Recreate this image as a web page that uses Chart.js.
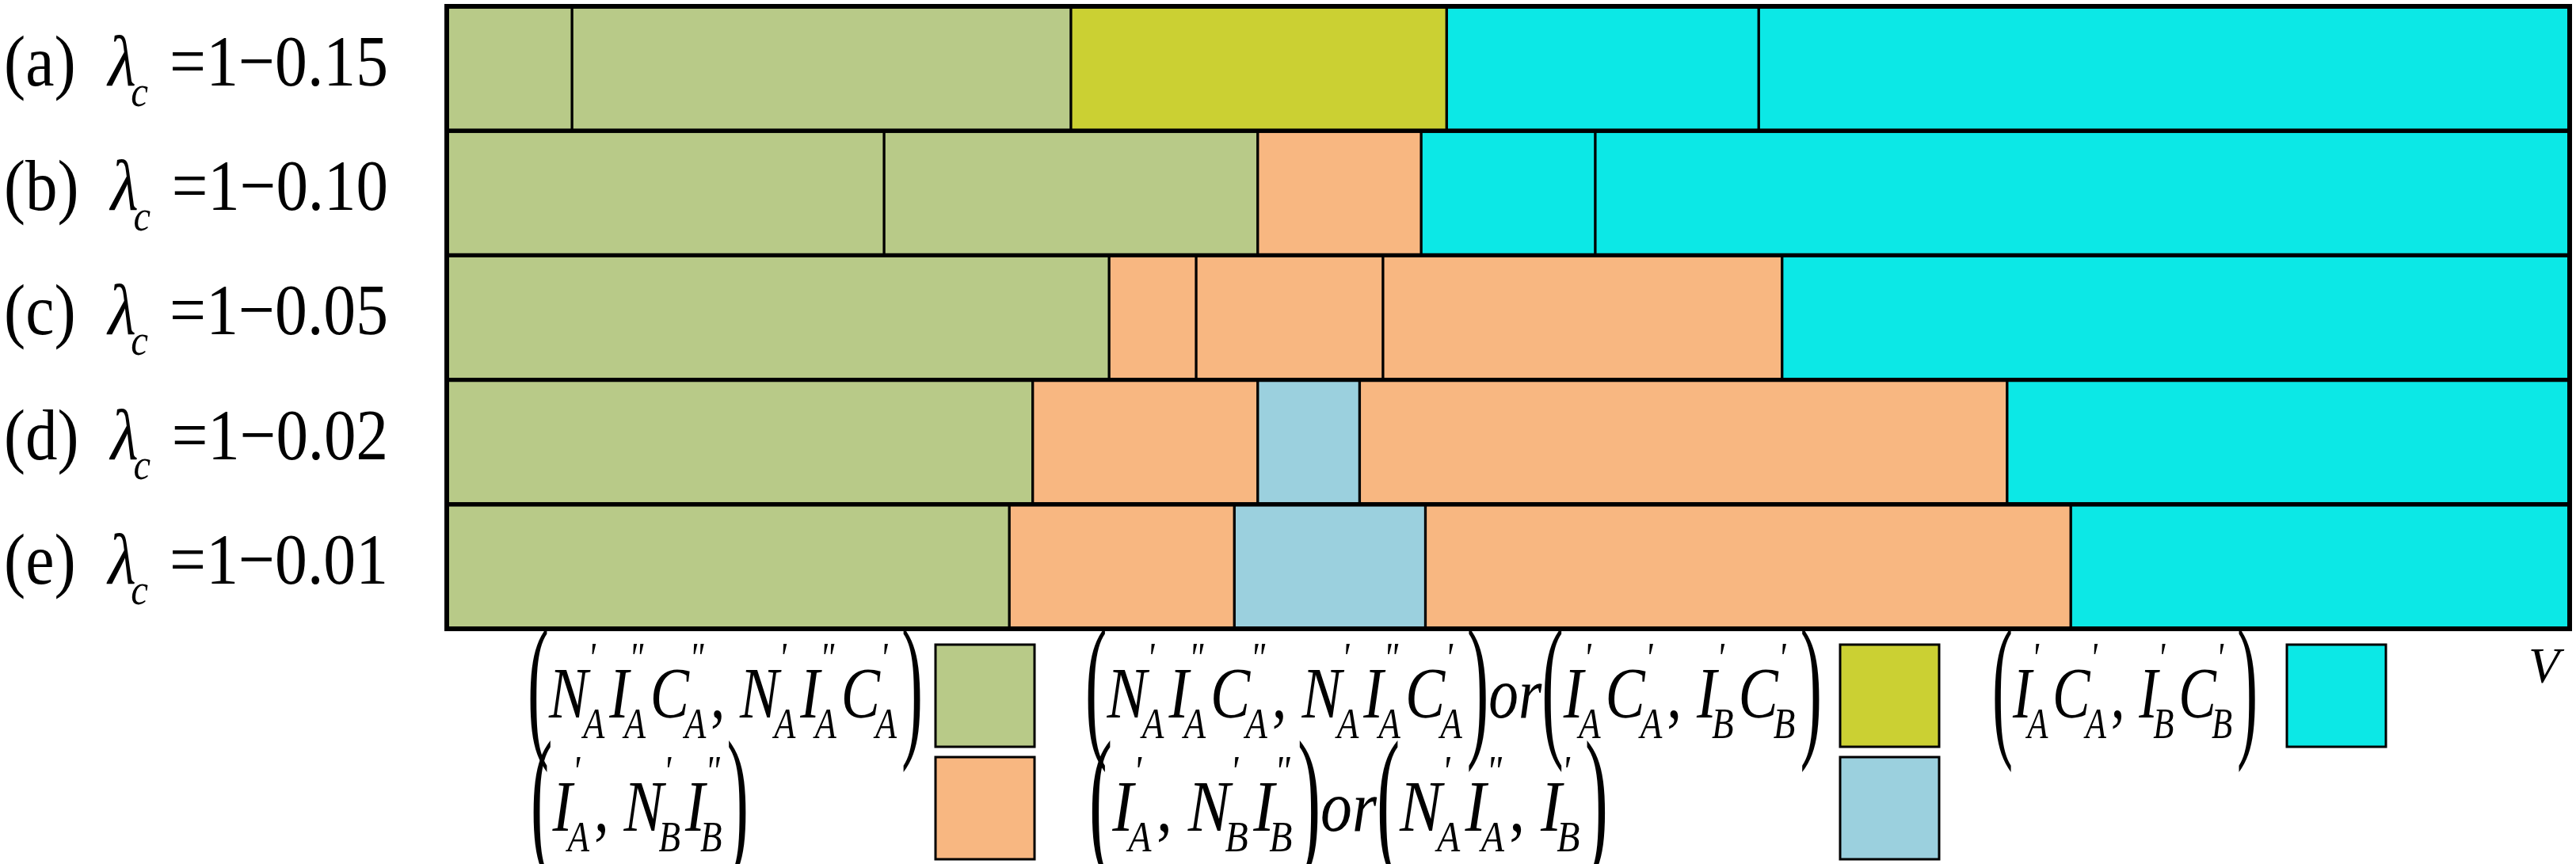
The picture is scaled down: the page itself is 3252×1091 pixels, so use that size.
<!DOCTYPE html>
<html lang="en">
<head>
<meta charset="UTF-8">
<title>Regime diagram</title>
<style>
  body { margin: 0; background: #fff; }
  canvas { display: block; }
</style>
</head>
<body>
<canvas id="chart" width="3252" height="1091"></canvas>
<script src="https://cdn.jsdelivr.net/npm/chart.js"></script>
<script>
// rows from top to bottom
const rowTags = ['(a)', '(b)', '(c)', '(d)', '(e)'];
const rowValues = ['1\u22120.15', '1\u22120.10', '1\u22120.05', '1\u22120.02', '1\u22120.01'];

// segment widths along V (total 100 per row), segment i of each row
const seg1 = [5.9, 20.6, 31.2, 27.6, 26.5];
const seg2 = [23.5, 17.6, 4.1, 10.6, 10.6];
const seg3 = [17.7, 7.7, 8.8, 4.8, 9.0];
const seg4 = [14.7, 8.2, 18.8, 30.5, 30.4];
const seg5 = [38.2, 45.9, 37.1, 26.5, 23.5];

// which state each segment belongs to
const rowStates = [
    ['G', 'G', 'Y', 'C', 'C'],
    ['G', 'G', 'O', 'C', 'C'],
    ['G', 'O', 'O', 'O', 'C'],
    ['G', 'O', 'L', 'O', 'C'],
    ['G', 'O', 'L', 'O', 'C']
];

const stateColors = { G: '#b8ca88', Y: '#cbd033', C: '#0ce8e6', O: '#f8b781', L: '#9bd0de' };

const segments = [seg1, seg2, seg3, seg4, seg5];
const datasets = segments.map((seg, i) => ({
    data: seg,
    backgroundColor: rowStates.map(r => stateColors[r[i]]),
    borderColor: '#000',
    borderWidth: { left: 2, right: 2, top: 3, bottom: 3 },
    borderSkipped: false,
    barPercentage: 1,
    categoryPercentage: 1
}));

const SERIF = '"Liberation Serif", "DejaVu Serif", serif';

// tokens: {p:'('} paren, {s:'text', i:italic}, {s:'N', i:1, sup:"'", sub:'A'}
function tokWidth(ctx, t, size) {
    if (t.p) { ctx.font = `${size * 1.1}px ${SERIF}`; return ctx.measureText(t.p).width; }
    ctx.font = `${t.i ? 'italic ' : ''}${size}px ${SERIF}`;
    let w = ctx.measureText(t.s).width;
    let extra = 0;
    ctx.font = `italic ${size * 0.6}px ${SERIF}`;
    if (t.sup) extra = Math.max(extra, ctx.measureText(t.sup).width);
    if (t.sub) extra = Math.max(extra, ctx.measureText(t.sub).width);
    return w + extra;
}

function drawMath(ctx, tokens, x0, x1, yMid, size) {
    let total = 0;
    tokens.forEach(t => { total += tokWidth(ctx, t, size); });
    const sx = (x1 - x0) / total;
    ctx.save();
    ctx.translate(x0, yMid);
    ctx.scale(sx, 1);
    ctx.fillStyle = '#000';
    ctx.textBaseline = 'alphabetic';
    let x = 0;
    const base = size * 0.32;
    tokens.forEach(t => {
        const w = tokWidth(ctx, t, size);
        if (t.p) {
            ctx.save();
            ctx.font = `${size * 1.1}px ${SERIF}`;
            ctx.scale(1, 2.0);
            ctx.fillText(t.p, x, size * 0.3);
            ctx.restore();
        } else {
            ctx.font = `${t.i ? 'italic ' : ''}${size}px ${SERIF}`;
            ctx.fillText(t.s, x, base);
            const lw = ctx.measureText(t.s).width;
            ctx.font = `italic ${size * 0.6}px ${SERIF}`;
            if (t.sup) ctx.fillText(t.sup, x + lw, base - size * 0.62);
            if (t.sub) ctx.fillText(t.sub, x + lw - size * 0.08, base + size * 0.28);
        }
        x += w;
    });
    ctx.restore();
}

const L = (s, sup, sub) => ({ s, i: 1, sup, sub });
const P1 = "'", P2 = '"';
const tupleNIC = [{ p: '(' }, L('N', P1, 'A'), L('I', P2, 'A'), L('C', P2, 'A'), { s: ', ' },
    L('N', P1, 'A'), L('I', P2, 'A'), L('C', P1, 'A'), { p: ')' }];
const tupleIC = [{ p: '(' }, L('I', P1, 'A'), L('C', P1, 'A'), { s: ', ' }, L('I', P1, 'B'), L('C', P1, 'B'), { p: ')' }];
const tupleIN = [{ p: '(' }, L('I', P1, 'A'), { s: ', ' }, L('N', P1, 'B'), L('I', P2, 'B'), { p: ')' }];
const tupleNI = [{ p: '(' }, L('N', P1, 'A'), L('I', P2, 'A'), { s: ', ' }, L('I', P1, 'B'), { p: ')' }];
const orTok = [{ s: 'or', i: 1 }];

const legendItems = [
    { tokens: tupleNIC, x0: 666, x1: 1165, y: 877, box: [1181, 814], color: stateColors.G },
    { tokens: tupleNIC.concat(orTok, tupleIC), x0: 1370, x1: 2300, y: 877, box: [2323, 814], color: stateColors.Y },
    { tokens: tupleIC, x0: 2515, x1: 2850, y: 877, box: [2887, 814], color: stateColors.C },
    { tokens: tupleIN, x0: 670, x1: 945, y: 1020, box: [1181, 956], color: stateColors.O },
    { tokens: tupleIN.concat(orTok, tupleNI), x0: 1375, x1: 2030, y: 1020, box: [2323, 956], color: stateColors.L }
];

const decorations = {
    id: 'decorations',
    afterDraw(chart) {
        const ctx = chart.ctx;
        const a = chart.chartArea;
        const y = chart.scales.y;
        // outer frame and row separators
        ctx.save();
        ctx.strokeStyle = '#000';
        ctx.lineWidth = 6;
        ctx.strokeRect(a.left, a.top, a.right - a.left, a.bottom - a.top);
        ctx.lineWidth = 5;
        for (let i = 0; i < rowTags.length - 1; i++) {
            const yy = (y.getPixelForValue(i) + y.getPixelForValue(i + 1)) / 2;
            ctx.beginPath(); ctx.moveTo(a.left, yy); ctx.lineTo(a.right, yy); ctx.stroke();
        }
        ctx.restore();
        // row labels
        rowTags.forEach((tag, i) => {
            const yy = y.getPixelForValue(i) - 8;
            const toks = [{ s: tag }, { s: '  ' }, L('\u03bb', null, 'c'), { s: ' =' + rowValues[i] }];
            drawMath(ctx, toks, 5, 490, yy, 92);
        });
        // legend
        legendItems.forEach(it => {
            drawMath(ctx, it.tokens, it.x0, it.x1, it.y, 92);
            ctx.save();
            ctx.fillStyle = it.color;
            ctx.fillRect(it.box[0], it.box[1], 125, 129);
            ctx.strokeStyle = '#000';
            ctx.lineWidth = 3;
            ctx.strokeRect(it.box[0], it.box[1], 125, 129);
            ctx.restore();
        });
        ctx.save();
        ctx.fillStyle = '#000';
        ctx.font = `italic 64px ${SERIF}`;
        ctx.fillText('V', 3192, 862);
        ctx.restore();
    }
};

new Chart(document.getElementById('chart'), {
    type: 'bar',
    data: { labels: rowTags, datasets: datasets },
    options: {
        indexAxis: 'y',
        responsive: false,
        animation: false,
        devicePixelRatio: 1,
        layout: { padding: { left: 564, right: 8, top: 8, bottom: 297 } },
        plugins: { legend: { display: false }, tooltip: { enabled: false } },
        scales: {
            x: { stacked: true, min: 0, max: 100, display: false },
            y: { stacked: true, display: false }
        }
    },
    plugins: [decorations]
});
</script>
</body>
</html>
